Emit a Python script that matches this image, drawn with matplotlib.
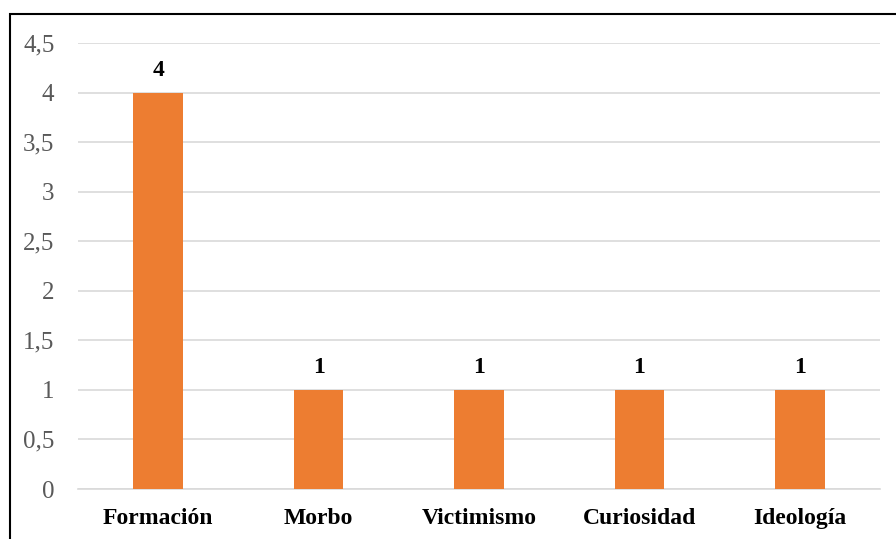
import matplotlib
matplotlib.use("Agg")
import matplotlib.pyplot as plt
from matplotlib.patches import Rectangle

# data
categorias = ["Formación", "Morbo", "Victimismo", "Curiosidad", "Ideología"]
valores = [4, 1, 1, 1, 1]
yticks = [0, 0.5, 1, 1.5, 2, 2.5, 3, 3.5, 4, 4.5]

plt.rcParams['font.family'] = ['Liberation Serif', 'DejaVu Serif']

fig = plt.figure(figsize=(8.96, 5.39), dpi=100)
ax = fig.add_axes([78/896, 1 - 489/539, (880-78)/896, (489-43)/539])

x = range(len(categorias))
bars = ax.bar(x, valores, width=0.31, color="#ED7D31", zorder=3)

# etiquetas de datos
for xi, v in zip(x, valores):
    ax.text(xi, v + 0.12, str(v), ha="center", va="bottom",
            fontsize=17, fontweight="bold", color="black")

ax.set_xlim(-0.5, len(categorias) - 0.5)
ax.set_ylim(0, 4.5)
ax.set_yticks(yticks)
ax.set_yticklabels([("%g" % t).replace(".", ",") for t in yticks],
                   fontsize=18, color="#595959")
ax.set_xticks(list(x))
ax.set_xticklabels(categorias, fontsize=17, fontweight="bold", color="black")
ax.tick_params(axis="y", length=0, pad=17)
ax.tick_params(axis="x", length=0, pad=14)

ax.grid(axis="y", color="#D9D9D9", linewidth=1.2, zorder=0)
for s in ["top", "right", "left"]:
    ax.spines[s].set_visible(False)
ax.spines["bottom"].set_color("#D9D9D9")
ax.spines["bottom"].set_linewidth(1.2)

# marco
fig.patches.append(Rectangle((10/896, -0.05), 1.0, 1 - 14/539 + 0.05,
                             transform=fig.transFigure, fill=False,
                             edgecolor="black", linewidth=1.5))

fig.savefig("out.png", dpi=100)
